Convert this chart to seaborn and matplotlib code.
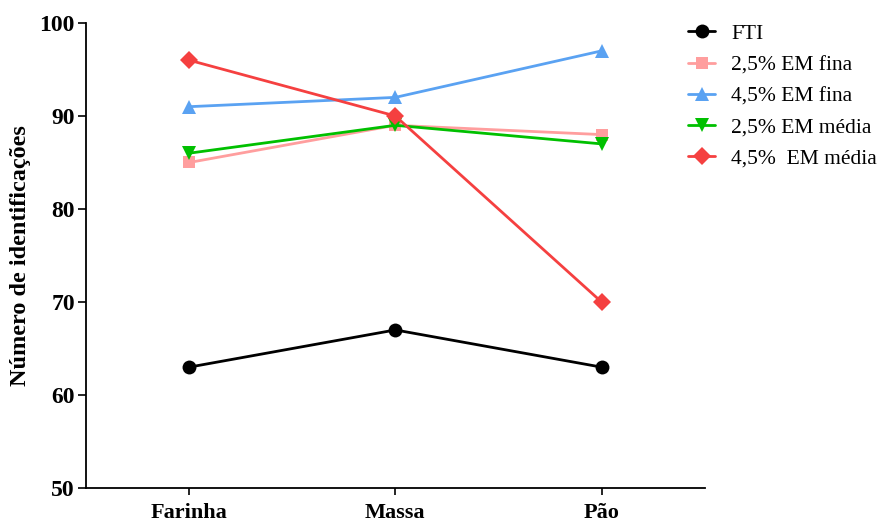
import matplotlib
matplotlib.use("Agg")
import matplotlib.pyplot as plt
import seaborn as sns
import pandas as pd

categories = ["Farinha", "Massa", "Pão"]
fti = [63, 67, 63]
em25_fina = [85, 89, 88]
em45_fina = [91, 92, 97]
em25_media = [86, 89, 87]
em45_media = [96, 90, 70]

series_names = ["FTI", "2,5% EM fina", "4,5% EM fina", "2,5% EM média", "4,5%  EM média"]
series_values = [fti, em25_fina, em45_fina, em25_media, em45_media]
colors = ["#000000", "#FF9E9E", "#5AA2F2", "#00C000", "#F54040"]
markers = ["o", "s", "^", "v", "D"]
msizes = [10, 9, 10, 10, 9]

sns.set_style("ticks")
plt.rcParams["font.family"] = ["Liberation Serif", "DejaVu Serif"]
plt.rcParams["text.color"] = "black"
plt.rcParams["axes.labelcolor"] = "black"

fig = plt.figure(figsize=(8.82, 5.22), dpi=100)
ax = fig.add_axes([0.0975, 0.065, 0.7015, 0.891])

for name, vals, c, m, ms in zip(series_names, series_values, colors, markers, msizes):
    df = pd.DataFrame({"cat": categories, "val": vals})
    sns.lineplot(data=df, x="cat", y="val", ax=ax, color=c, marker=m,
                 markersize=ms, markeredgewidth=0, linewidth=2, label=name)

ax.set_xlim(-0.5, 2.5)
ax.set_ylim(50, 100)
ax.set_yticks([50, 60, 70, 80, 90, 100])
ax.set_xlabel("")
ax.set_ylabel("Número de identificações", fontsize=17.5, fontweight="bold",
              labelpad=6, color="black")
for lab in ax.get_yticklabels():
    lab.set_fontweight("bold")
    lab.set_fontsize(17)
for lab in ax.get_xticklabels():
    lab.set_fontweight("bold")
    lab.set_fontsize(16)
ax.tick_params(axis="both", direction="out", width=1.2, colors="black")
ax.tick_params(axis="y", length=6, pad=2)
ax.tick_params(axis="x", length=5, pad=6)
for s in ["left", "bottom"]:
    ax.spines[s].set_linewidth(1.3)
    ax.spines[s].set_color("black")
sns.despine(ax=ax)

leg = ax.legend(loc="upper left", bbox_to_anchor=(0.942, 1.04), frameon=False,
                fontsize=15.5, handlelength=1.25, labelspacing=0.52, handletextpad=0.75)

fig.savefig("out.png", dpi=100)
